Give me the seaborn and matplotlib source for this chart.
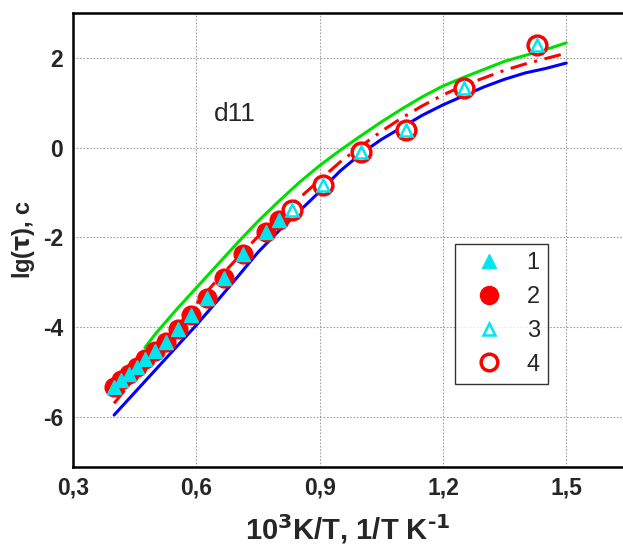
"""
lg(tau) vs 10^3/T for sample d11: three model curves and four sets of measured points.
"""
import matplotlib
matplotlib.use('Agg')
import matplotlib.pyplot as plt
from matplotlib.lines import Line2D
from matplotlib.ticker import MultipleLocator
import seaborn as sns

# Model curves
curve_x = [0.40, 0.45, 0.50, 0.55, 0.60, 0.65, 0.70, 0.75, 0.80, 0.85, 0.90, 0.95,
           1.00, 1.05, 1.10, 1.15, 1.20, 1.25, 1.30, 1.35, 1.40, 1.45, 1.50]
blue_y = [-5.95, -5.45, -4.95, -4.45, -3.95, -3.42, -2.88, -2.33, -1.86, -1.42, -0.98, -0.52,
          -0.14, 0.18, 0.45, 0.72, 0.95, 1.15, 1.35, 1.52, 1.66, 1.76, 1.88]
red_y = [-5.69, -5.12, -4.58, -4.02, -3.48, -2.95, -2.46, -1.98, -1.55, -1.13, -0.72, -0.32,
         0.03, 0.36, 0.66, 0.93, 1.17, 1.38, 1.55, 1.72, 1.86, 1.98, 2.10]
green_x = [0.475, 0.50, 0.55, 0.60, 0.65, 0.70, 0.75, 0.80, 0.85, 0.90, 0.95,
           1.00, 1.05, 1.10, 1.15, 1.20, 1.25, 1.30, 1.35, 1.40, 1.45, 1.50]
green_y = [-4.45, -4.15, -3.62, -3.12, -2.62, -2.12, -1.64, -1.20, -0.78, -0.40, -0.06,
           0.26, 0.57, 0.86, 1.13, 1.37, 1.56, 1.74, 1.92, 2.05, 2.18, 2.33]

# Measured points (filled: series 1 and 2, open: series 3 and 4)
filled_x = [0.400, 0.417, 0.435, 0.455, 0.476, 0.500, 0.526, 0.556, 0.588, 0.625,
            0.667, 0.714, 0.769, 0.800]
filled_y = [-5.32, -5.17, -5.04, -4.89, -4.71, -4.52, -4.32, -4.04, -3.73, -3.35,
            -2.91, -2.37, -1.87, -1.61]
open_x = [0.833, 0.909, 1.000, 1.111, 1.250, 1.429]
open_y = [-1.39, -0.83, -0.09, 0.39, 1.32, 2.29]

xtick_vals = [0.3, 0.6, 0.9, 1.2, 1.5]
xtick_labels = ['0,3', '0,6', '0,9', '1,2', '1,5']
ytick_vals = [-6, -4, -2, 0, 2]
ytick_labels = ['-6', '-4', '-2', '0', '2']
legend_labels = ['1', '2', '3', '4']

sns.set_style('white')
plt.rcParams['font.family'] = ['Liberation Sans', 'DejaVu Sans']
plt.rcParams['mathtext.fontset'] = 'custom'
plt.rcParams['mathtext.rm'] = 'Liberation Sans Narrow:bold'
plt.rcParams['mathtext.it'] = 'Liberation Sans Narrow:bold'
plt.rcParams['mathtext.bf'] = 'Liberation Sans Narrow:bold'

fig = plt.figure(figsize=(6.23, 5.53), dpi=100)
ax = fig.add_axes([0.1172, 0.156, 0.8828, 0.821])

lw = 2.2
sns.lineplot(x=green_x, y=green_y, color='#00e000', lw=lw, ax=ax, legend=False)
sns.lineplot(x=curve_x, y=blue_y, color='#0000ff', lw=lw, ax=ax, legend=False)
sns.lineplot(x=curve_x, y=red_y, color='#ff0000', lw=lw, ls=(0, (5.5, 2.5, 1, 2.5)),
             ax=ax, legend=False)

# series 2 under series 1, series 4 under series 3
sns.lineplot(x=filled_x, y=filled_y, ls='', marker='o', ms=13.5, mfc='#ff0000',
             mec='#ff0000', mew=1, ax=ax, legend=False)
sns.lineplot(x=filled_x, y=filled_y, ls='', marker='^', ms=10, mfc='#00e5ee',
             mec='#00e5ee', mew=1, ax=ax, legend=False)
sns.lineplot(x=open_x, y=open_y, ls='', marker='o', ms=13.5, mfc='white',
             mec='#ff0000', mew=2.5, ax=ax, legend=False)
sns.lineplot(x=open_x, y=open_y, ls='', marker='^', ms=8, mfc='white',
             mec='#00e5ee', mew=1.8, ax=ax, legend=False)

ax.set_xlim(0.3, 1.638)
ax.set_ylim(-7.1, 3.0)
ax.set_xticks(xtick_vals)
ax.set_xticklabels(xtick_labels)
ax.set_yticks(ytick_vals)
ax.set_yticklabels(ytick_labels)
ax.xaxis.set_minor_locator(MultipleLocator(0.15))
ax.yaxis.set_minor_locator(MultipleLocator(1))
ax.tick_params(which='both', direction='in', width=1.7, top=False, right=False)
ax.tick_params(which='major', length=6, labelsize=16.5, pad=7)
ax.tick_params(which='minor', length=3)
for lab in ax.get_xticklabels() + ax.get_yticklabels():
    lab.set_fontweight('bold')

ax.grid(True, which='major', color='#a0a0a0', ls=(0, (1.5, 1.5)), lw=0.8)
ax.set_axisbelow(True)
for side in ['left', 'bottom', 'top']:
    ax.spines[side].set_linewidth(1.8)
    ax.spines[side].set_color('black')
ax.spines['right'].set_visible(False)

ax.set_xlabel(r'10$^{3}$K/T, 1/T K$^{\text{-}1}$', fontsize=21, fontweight='bold',
              family=['Liberation Sans Narrow', 'Liberation Sans'], labelpad=9)
ax.set_ylabel(r'lg($\tau$), c', fontsize=17, fontweight='bold', labelpad=4)

ax.text(0.694, 0.75, 'd11', fontsize=19, ha='center', va='center')

handles = [
    Line2D([], [], ls='', marker='^', ms=10, mfc='#00e5ee', mec='#00e5ee'),
    Line2D([], [], ls='', marker='o', ms=13, mfc='#ff0000', mec='#ff0000'),
    Line2D([], [], ls='', marker='^', ms=8, mfc='white', mec='#00e5ee', mew=1.8),
    Line2D([], [], ls='', marker='o', ms=12, mfc='white', mec='#ff0000', mew=2.5),
]
leg = ax.legend(handles, legend_labels, loc='upper right', bbox_to_anchor=(0.8636, 0.4905),
                fontsize=17, frameon=True, fancybox=False, borderaxespad=0,
                handlelength=2.2, handletextpad=0.5, borderpad=0.35, labelspacing=0.5,
                markerfirst=True)
leg.get_frame().set_edgecolor('black')
leg.get_frame().set_linewidth(1.0)

fig.savefig('out.png', dpi=100)
